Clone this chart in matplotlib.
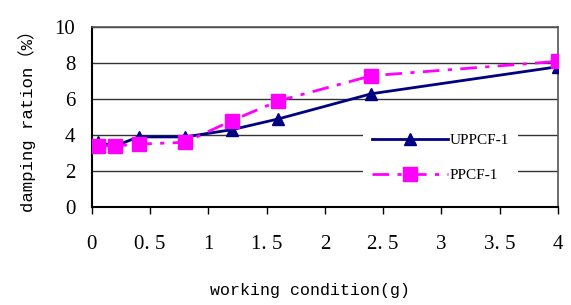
import matplotlib
matplotlib.use('Agg')
import matplotlib.pyplot as plt

# working condition (g) and damping ratio (%)
x_vals = [0.05, 0.2, 0.4, 0.8, 1.2, 1.6, 2.4, 4.0]
uppcf = [3.6, 3.4, 3.9, 3.9, 4.3, 4.9, 6.3, 7.8]
ppcf = [3.4, 3.4, 3.5, 3.6, 4.8, 5.9, 7.3, 8.1]
x_ticks = [0, 0.5, 1, 1.5, 2, 2.5, 3, 3.5, 4]
x_labels = ['0', '0. 5', '1', '1. 5', '2', '2. 5', '3', '3. 5', '4']
y_ticks = [0, 2, 4, 6, 8, 10]

plt.rcParams['font.family'] = ['Liberation Serif', 'DejaVu Serif']
mono = ['Liberation Mono', 'Noto Sans CJK SC', 'DejaVu Sans Mono']

fig = plt.figure(figsize=(5.71, 3.05), dpi=100)
ax = fig.add_axes([0.161, 0.321, 0.816, 0.590])

ax.plot(x_vals, uppcf, color='#000080', linewidth=2, marker='^',
        markersize=9, label='UPPCF-1', zorder=3)
ax.plot(x_vals, ppcf, color='#FF00FF', linewidth=2, linestyle=(0, (6, 3, 1.5, 3)),
        marker='s', markersize=10.5, label='PPCF-1', zorder=4)

ax.set_xlim(0, 4)
ax.set_ylim(0, 10)
ax.set_xticks(x_ticks)
ax.set_xticklabels(x_labels)
ax.set_yticks(y_ticks)
ax.tick_params(axis='x', direction='out', length=5, width=1, pad=15, labelsize=15)
ax.tick_params(axis='y', length=0, pad=12, labelsize=15)
ax.yaxis.grid(True, color='#333333', linewidth=1)
ax.set_axisbelow(True)

for side in ['left', 'bottom']:
    ax.spines[side].set_linewidth(1.5)
for side in ['top', 'right']:
    ax.spines[side].set_color('#555555')
    ax.spines[side].set_linewidth(1.2)

ax.set_xlabel('working condition(g)', fontsize=12, family=mono)
ax.xaxis.set_label_coords(0.468, -0.42)
ax.set_ylabel('damping ration（%）', fontsize=12.5, labelpad=13, family=mono)

leg = ax.legend(loc='center left', bbox_to_anchor=(0.565, 0.275), frameon=True,
                fontsize=11, handlelength=5.0, handletextpad=0.1,
                labelspacing=1.4, borderpad=0.6, framealpha=1)
leg.get_frame().set_edgecolor('white')
leg.get_frame().set_linewidth(0)

fig.savefig('out.png', dpi=100)
